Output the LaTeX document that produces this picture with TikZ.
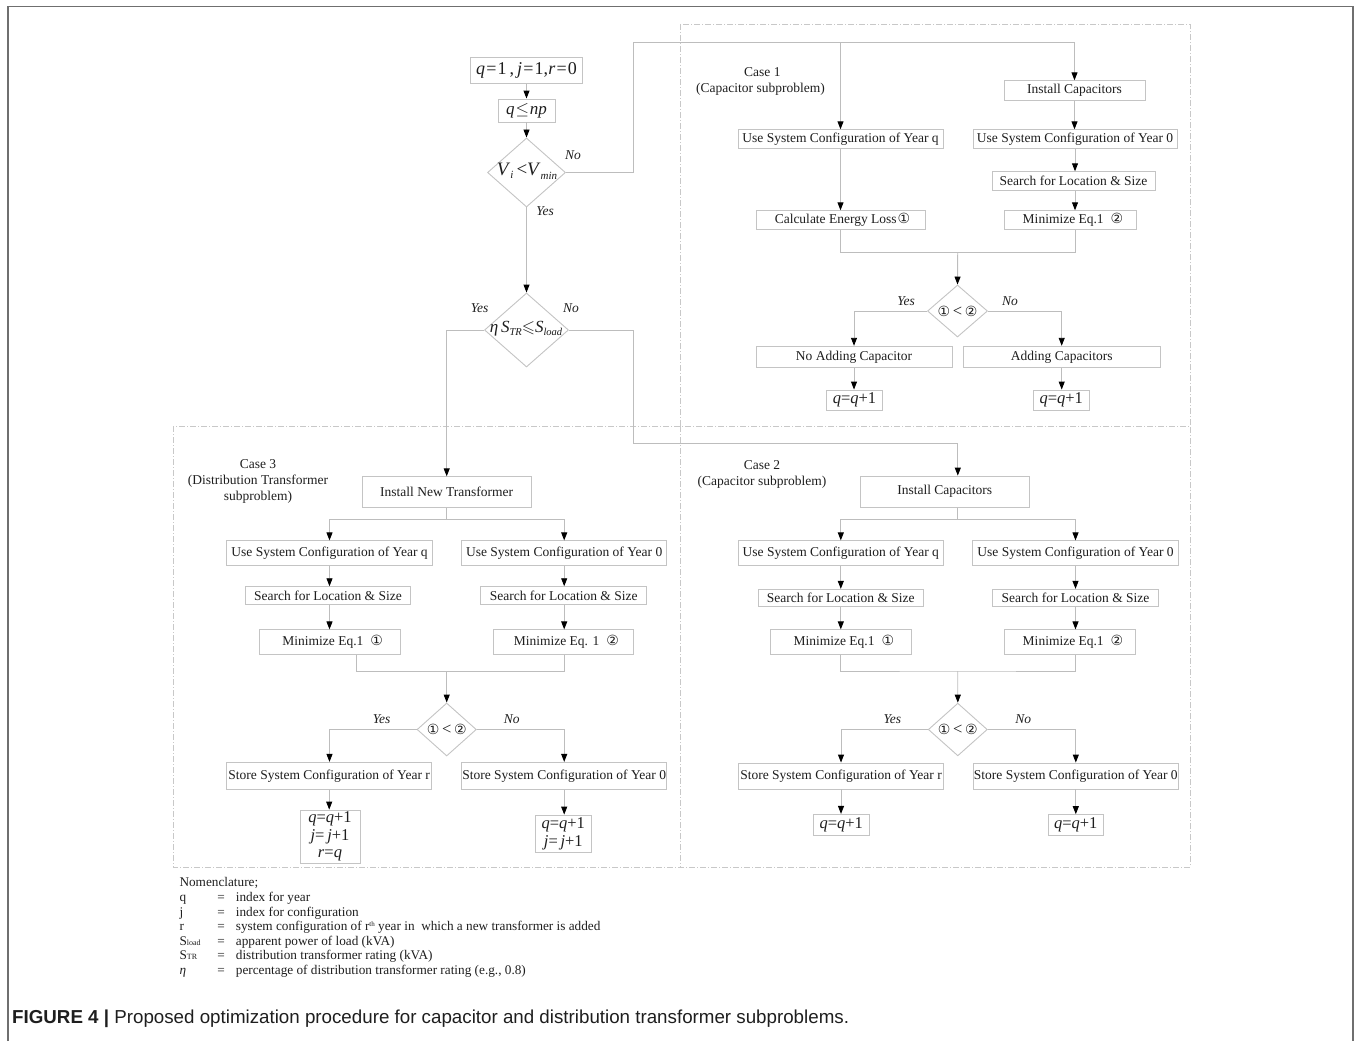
\documentclass[tikz,border=0pt]{standalone}
\usepackage{amsmath,amssymb}
\usepackage{fontspec}
\setmainfont{Liberation Serif}
\newfontfamily\capfont{Liberation Sans}
\newfontfamily\djv{DejaVu Sans}
\usetikzlibrary{arrows.meta,shapes.geometric,calc}
\definecolor{boxgray}{HTML}{C4C4C4}
\definecolor{linegray}{HTML}{BDBDBD}
\definecolor{dashgray}{HTML}{C8C8C8}
\definecolor{txt}{HTML}{1E1E1E}
\definecolor{framegray}{HTML}{6F6F6F}
\newcommand\fs{\fontsize{13.5}{16}\selectfont}
\newcommand\nfs{\fontsize{13.25}{15}\selectfont}
\newcommand\cone{{\djv\fontsize{14}{14}\selectfont ①}}
\newcommand\ctwo{{\djv\fontsize{14}{14}\selectfont ②}}
\newcommand\mfs{\fontsize{16.5}{18}\selectfont}
\newcommand\mi[1]{\textit{#1}}
\newcommand\eqk{\kern1.2pt=\kern1.2pt}
\newcommand\msub[1]{{\fontsize{10.5}{11}\selectfont\raisebox{-3pt}{\textit{#1}}}}
\tikzset{
 bx/.style={draw=boxgray, line width=0.9pt, fill=white, inner sep=0pt, font=\fs, text=txt},
 sz/.style 2 args={minimum width=#1pt, minimum height=#2pt},
 dia/.style={draw=boxgray, line width=0.9pt, diamond, inner sep=0pt, fill=white},
 ln/.style={draw=linegray, line width=0.9pt},
 arr/.style={ln, -{Triangle[color=black,length=8pt,width=6pt]}},
 lbl/.style={font=\fs\itshape, text=txt, inner sep=0pt},
 cs/.style={font=\fs, text=txt, inner sep=0pt, align=center},
 region/.style={draw=dashgray, line width=0.8pt, dash pattern=on 6pt off 2pt on 1pt off 2pt},
 mth/.style={font=\mfs, text=txt, inner sep=0pt},
 nm/.style={font=\nfs, text=txt, inner sep=0pt, anchor=base west},
 eqs/.style={font=\nfs, text=txt, inner sep=0pt, anchor=base},
}
\begin{document}
\begin{tikzpicture}[x=1pt,y=-1pt]
\useasboundingbox (0,0) rectangle (1356,1041);
% outer frame
\draw[framegray, line width=1.5pt] (8,1041) -- (8,6.5) -- (1353,6.5) -- (1353,1041);
% regions
\draw[region] (680,24) rectangle (1190,426);
\draw[region] (173,426) rectangle (1190,867);
\draw[region] (680,426) -- (680,867);

% ---------- main flow
\node[bx, sz={112}{25.5}, font=\fontsize{18}{20}\selectfont] (init) at (526.5,70.5) {\mi{q}\eqk1\,,\,\mi{j}\eqk1,\mi{r}\eqk0};
\node[bx, sz={57}{23}, font=\fontsize{17}{20}\selectfont] (np) at (526.5,110.5) {\mi{q}\kern1pt$\leq$\kern1pt\mi{np}};
\node[dia, sz={78}{69}] (dv) at (526.5,172.5) {};
\node[mth, font=\fontsize{19}{20}\selectfont] (dvt) at (527,171.5) {\mi{V}{\fontsize{11}{11}\selectfont\raisebox{-3pt}{\textit{i}}}\,<\mi{V}{\fontsize{11}{11}\selectfont\raisebox{-4pt}{\textit{min}}}};
\node[lbl] (dvno) at (573,155) {No};
\node[lbl] (dvyes) at (545,211) {Yes};
\node[dia, sz={84}{74}] (ds) at (526.5,330) {};
\node[mth, font=\fontsize{17}{18}\selectfont] (dst) at (526,329) {\mi{η}\,\mi{S}\msub{TR}$\leqslant$\mi{S}\msub{load}};
\node[lbl] (dsyes) at (479.5,308.5) {Yes};
\node[lbl] (dsno) at (571,308.5) {No};

\draw[arr] (init) -- (np);
\draw[arr] (np) -- (dv);
\draw[arr] (dv.south) -- (ds.north);

% ---------- Case 1
\node[cs, anchor=west] (c1lab) at (744,72.5) {Case 1};
\node[cs, anchor=west] (c1lab2) at (696,89) {(Capacitor subproblem)};
\node[bx, sz={141}{19.5}] (c1inst) at (1074.5,90.5) {Install Capacitors};
\node[bx, sz={205}{18.5}] (c1q) at (840.5,139) {Use System Configuration of Year q};
\node[bx, sz={204}{18.5}] (c10) at (1075,139) {Use System Configuration of Year 0};
\node[bx, sz={163}{18.5}] (c1s) at (1073.5,181) {Search for Location \& Size};
\node[bx, sz={169}{18.5}] (c1e) at (840.5,220) {\hspace*{4pt}Calculate Energy Loss\kern1pt\cone};
\node[bx, sz={132}{18.5}] (c1m) at (1070,220) {\hspace*{6pt}Minimize Eq.1\hspace{7pt}\ctwo};
\node[dia, sz={60}{52}] (c1d) at (957.5,311) {};
\node[mth] (c1dt) at (957.5,311) {\cone\,<\,\ctwo};
\node[lbl] (c1yes) at (906,301) {Yes};
\node[lbl] (c1no) at (1010,301) {No};
\node[bx, sz={196}{21.5}] (c1na) at (854,357) {No Adding Capacitor};
\node[bx, sz={197}{21.5}] (c1ad) at (1061.7,357) {Adding Capacitors};
\node[bx, sz={56}{20}, font=\mfs] (c1qa) at (854.5,400) {\mi{q}=\mi{q}+1};
\node[bx, sz={56}{20}, font=\mfs] (c1qb) at (1061.3,400) {\mi{q}=\mi{q}+1};

\coordinate (t1) at (633,42.3);
\draw[arr] (dv.east) -| (t1) -| (c1inst.north);
\draw[arr] (c1q |- t1) -- (c1q.north);
\draw[arr] (c1inst.south) -- (c1inst.south |- c10.north);
\draw[arr] (c10.south) -- (c10.south |- c1s.north);
\draw[arr] (c10.south |- c1s.south) -- (c10.south |- c1m.north);
\draw[arr] (c1q.south) -- (c1q.south |- c1e.north);
\coordinate (m1) at (957.7,252.7);
\draw[ln] (c1e.south) |- (m1) -| (c10.south |- c1m.south);
\draw[arr] (m1) -- (c1d.north);
\draw[arr] (c1d.west) -| (c1na.north);
\draw[arr] (c1d.east) -| (c1ad.north);
\draw[arr] (c1na.south) -- (c1na.south |- c1qa.north);
\draw[arr] (c1ad.south) -- (c1ad.south |- c1qb.north);

% ---------- Case 3
\node[cs] (c3lab) at (258,481) {Case 3\\(Distribution Transformer\\subproblem)};
\node[bx, sz={169}{30.5}] (c3inst) at (446.7,492) {Install New Transformer};
\node[bx, sz={205.6}{24.3}] (c3q) at (329.5,553) {Use System Configuration of Year q};
\node[bx, sz={205}{24.3}] (c30) at (564.2,553) {Use System Configuration of Year 0};
\node[bx, sz={165.4}{17.6}] (c3sa) at (328,595.5) {Search for Location \& Size};
\node[bx, sz={166}{17.6}] (c3sb) at (563.7,595.5) {Search for Location \& Size};
\node[bx, sz={140.7}{24.3}] (c3ma) at (329.7,642) {\hspace*{6pt}Minimize Eq.1\hspace{7pt}\cone};
\node[bx, sz={140}{24.3}] (c3mb) at (563.3,642) {\hspace*{6pt}Minimize Eq. 1\hspace{7pt}\ctwo};
\node[dia, sz={59.3}{53}] (c3d) at (446.7,729.5) {};
\node[mth] (c3dt) at (446.7,729.5) {\cone\,<\,\ctwo};
\node[lbl] (c3yes) at (381.7,719.3) {Yes};
\node[lbl] (c3no) at (511.7,719.3) {No};
\node[bx, sz={205}{26.7}] (c3sr) at (329.2,775.7) {Store System Configuration of Year r};
\node[bx, sz={205}{26.7}] (c3s0) at (564.2,775.7) {Store System Configuration of Year 0};
\node[bx, sz={60}{53.3}, font=\fontsize{16.5}{17.5}\selectfont, align=center] (c3qa) at (330,836.7) {\mi{q}=\mi{q}+1\\\mi{j}=\,\mi{j}+1\\\mi{r}=\mi{q}};
\node[bx, sz={56.7}{37.3}, font=\fontsize{16.5}{17.5}\selectfont, align=center] (c3qb) at (563.3,833.7) {\mi{q}=\mi{q}+1\\\mi{j}=\,\mi{j}+1};

\draw[arr] (ds.west) -| (c3inst.north);
\coordinate (s3) at (446.7,519);
\draw[ln] (c3inst.south) -- (s3);
\draw[arr] (s3) -| (c3q.north);
\draw[arr] (s3) -| (c30.north);
\draw[arr] (c3q.south) -- (c3q.south |- c3sa.north);
\draw[arr] (c30.south) -- (c30.south |- c3sb.north);
\draw[arr] (c3q.south |- c3sa.south) -- (c3q.south |- c3ma.north);
\draw[arr] (c30.south |- c3sb.south) -- (c30.south |- c3mb.north);
\coordinate (m3l) at (356,671);
\coordinate (m3) at (446.7,671);
\draw[ln] (m3l |- c3ma.south) -- (m3l) -| (c30.south |- c3mb.south);
\draw[arr] (m3) -- (c3d.north);
\draw[arr] (c3d.west) -| (c3q.south |- c3sr.north);
\draw[arr] (c3d.east) -| (c3s0.north);
\draw[arr] (c3sr.south) -- (c3sr.south |- c3qa.north);
\draw[arr] (c3s0.south) -- (c3s0.south |- c3qb.north);

% ---------- Case 2
\node[cs] (c2lab) at (762,474) {Case 2\\(Capacitor subproblem)};
\node[bx, sz={169.3}{31.3}] (c2inst) at (944.7,491.7) {Install Capacitors};
\node[bx, sz={205}{24.3}] (c2q) at (840.8,553) {Use System Configuration of Year q};
\node[bx, sz={205.6}{24.3}] (c20) at (1075.5,553) {Use System Configuration of Year 0};
\node[bx, sz={165}{17.4}] (c2sa) at (840.8,598) {Search for Location \& Size};
\node[bx, sz={165.6}{17.4}] (c2sb) at (1075.5,598) {Search for Location \& Size};
\node[bx, sz={140.3}{24.3}] (c2ma) at (840.8,642) {\hspace*{6pt}Minimize Eq.1\hspace{7pt}\cone};
\node[bx, sz={131.7}{24.3}] (c2mb) at (1070,642) {\hspace*{6pt}Minimize Eq.1\hspace{7pt}\ctwo};
\node[dia, sz={59}{52.7}] (c2d) at (957.8,729.5) {};
\node[mth] (c2dt) at (957.8,729.5) {\cone\,<\,\ctwo};
\node[lbl] (c2yes) at (892.3,719.3) {Yes};
\node[lbl] (c2no) at (1023.3,719.3) {No};
\node[bx, sz={204.3}{26}] (c2sr) at (841,776) {Store System Configuration of Year r};
\node[bx, sz={205}{26}] (c2s0) at (1075.8,776) {Store System Configuration of Year 0};
\node[bx, sz={56}{20.7}, font=\mfs] (c2qa) at (841.3,824.7) {\mi{q}=\mi{q}+1};
\node[bx, sz={55}{20.7}, font=\mfs] (c2qb) at (1075.8,825) {\mi{q}=\mi{q}+1};

\coordinate (t2) at (633.3,443.3);
\draw[arr] (ds.east) -| (t2) -| (c2d.north |- c2inst.north);
\coordinate (s2) at (957.7,519);
\draw[ln] (s2 |- c2inst.south) -- (s2);
\draw[arr] (s2) -| (c2q.north);
\draw[arr] (s2) -| (c20.north);
\draw[arr] (c2q.south) -- (c2q.south |- c2sa.north);
\draw[arr] (c20.south) -- (c20.south |- c2sb.north);
\draw[arr] (c2q.south |- c2sa.south) -- (c2q.south |- c2ma.north);
\draw[arr] (c20.south |- c2sb.south) -- (c20.south |- c2mb.north);
\coordinate (m2) at (957.7,671);
\draw[ln] (c2ma.south) |- (m2) -| (c20.south |- c2mb.south);
\draw[arr] (m2) -- (c2d.north);
\draw[arr] (c2d.west) -| (c2sr.north);
\draw[arr] (c2d.east) -| (c2s0.north);
\draw[arr] (c2sr.south) -- (c2sr.south |- c2qa.north);
\draw[arr] (c2s0.south) -- (c2s0.south |- c2qb.north);

% ---------- Nomenclature
\node[nm] (n0) at (179.3,886.7) {Nomenclature;};
\node[nm] (n1a) at (179.3,901.3) {q};
\node[eqs] (n1b) at (221,901.3) {=};
\node[nm] (n1c) at (235.7,901.3) {index for year};
\node[nm] (n2a) at (179.3,916.3) {j};
\node[eqs] (n2b) at (221,916.3) {=};
\node[nm] (n2c) at (235.7,916.3) {index for configuration};
\node[nm] (n3a) at (179.3,930.7) {r};
\node[eqs] (n3b) at (221,930.7) {=};
\node[nm] (n3c) at (235.7,930.7) {system configuration of r{\fontsize{7}{7}\selectfont\raisebox{4pt}{th}} year in\ \ which a new transformer is added};
\node[nm] (n4a) at (179.3,945.7) {S{\fontsize{8}{8}\selectfont load}};
\node[eqs] (n4b) at (221,945.7) {=};
\node[nm] (n4c) at (235.7,945.7) {apparent power of load (kVA)};
\node[nm] (n5a) at (179.3,959.7) {S{\fontsize{8}{8}\selectfont TR}};
\node[eqs] (n5b) at (221,959.7) {=};
\node[nm] (n5c) at (235.7,959.7) {distribution transformer rating (kVA)};
\node[nm] (n6a) at (179.3,974) {\mi{η}};
\node[eqs] (n6b) at (221,974) {=};
\node[nm] (n6c) at (235.7,974) {percentage of distribution transformer rating (e.g., 0.8)};

% ---------- Caption
\node[anchor=base west, inner sep=0pt, text=txt, font=\capfont\fontsize{18.75}{20}\selectfont] (cap) at (12,1023.5) {\textbf{FIGURE 4 |} Proposed optimization procedure for capacitor and distribution transformer subproblems.};
\end{tikzpicture}
\end{document}
